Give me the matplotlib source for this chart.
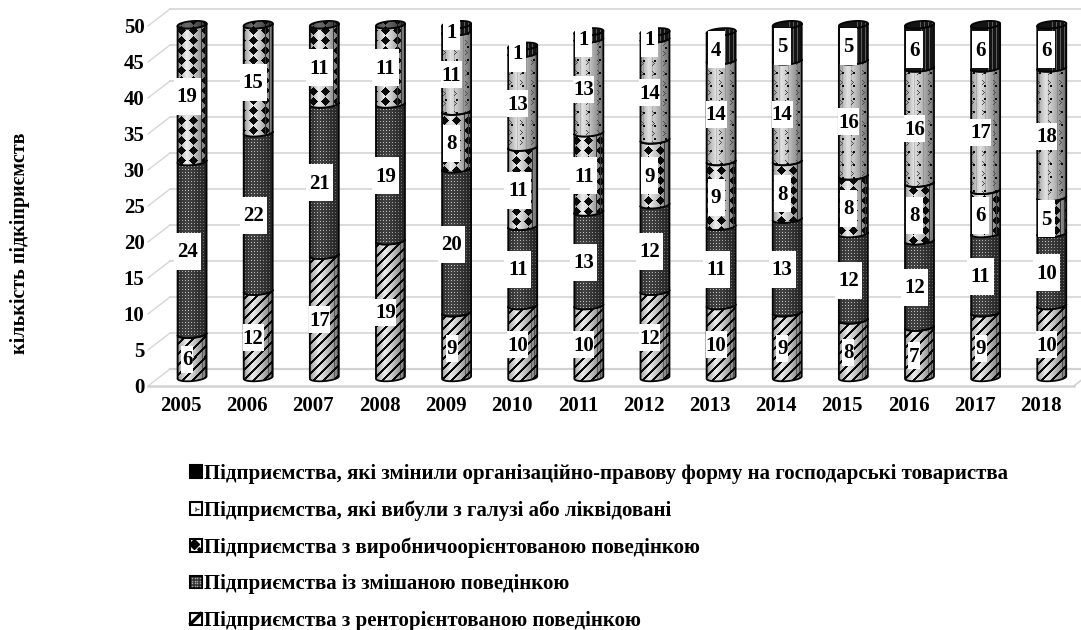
import numpy as np
import matplotlib
matplotlib.use("Agg")
import matplotlib.pyplot as plt
from matplotlib.path import Path
from matplotlib.patches import PathPatch, Rectangle
from matplotlib.lines import Line2D
from matplotlib.legend_handler import HandlerBase
from matplotlib.transforms import IdentityTransform, Affine2D

years = [2005, 2006, 2007, 2008, 2009, 2010, 2011, 2012, 2013, 2014, 2015, 2016, 2017, 2018]
rent = [6, 12, 17, 19, 9, 10, 10, 12, 10, 9, 8, 7, 9, 10]
mixed = [24, 22, 21, 19, 20, 11, 13, 12, 11, 13, 12, 12, 11, 10]
production = [19, 15, 11, 11, 8, 11, 11, 9, 9, 8, 8, 8, 6, 5]
exited = [0, 0, 0, 0, 11, 13, 13, 14, 14, 14, 16, 16, 17, 18]
changed = [0, 0, 0, 0, 1, 1, 1, 1, 4, 5, 5, 6, 6, 6]
legend_labels = [
    "Підприємства, які змінили організаційно-правову форму на господарські товариства",
    "Підприємства, які вибули з галузі або ліквідовані",
    "Підприємства з виробничоорієнтованою поведінкою",
    "Підприємства із змішаною поведінкою",
    "Підприємства з ренторієнтованою поведінкою",
]
ylabel = "кількість підкіприємств"
yticks = [0, 5, 10, 15, 20, 25, 30, 35, 40, 45, 50]

plt.rcParams["font.family"] = ["Liberation Serif", "DejaVu Serif"]
plt.rcParams["font.weight"] = "bold"

W, H = 1081, 630
PX_CAT, PX_VAL = 66.13, 7.2      # pixels per category / per value
LEFT, BOTTOM = 159.0, 377.5
fig = plt.figure(figsize=(W / 100, H / 100), dpi=100, facecolor="white")
ax = fig.add_axes([LEFT / W, (H - BOTTOM) / H, 14 * PX_CAT / W, 50 * PX_VAL / H])
ax.patch.set_visible(False)
for s in ax.spines.values():
    s.set_visible(False)
ax.set_xlim(-.5, 13.5)
ax.set_ylim(0, 50)


def px_shift(dx, dy):
    return Affine2D().translate(dx, dy)


back = ax.transData + px_shift(11, 8.5)
front = ax.transData + px_shift(-11, -8.5)
GRID = "#d2d2d2"
for v in yticks:
    lw = 1.6 if v == 0 else 1.1
    ax.plot([-0.5, 13.5], [v, v], color=GRID, lw=lw, transform=back, clip_on=False, zorder=1)
    p0 = front.transform((-0.5, v))
    p1 = back.transform((-0.5, v))
    ax.plot([p0[0], p1[0]], [p0[1], p1[1]], color=GRID, lw=0.9,
            transform=IdentityTransform(), clip_on=False, zorder=1)
ax.plot([-0.5, 13.5], [0, 0], color=GRID, lw=1.8, transform=front, clip_on=False, zorder=1)
p0 = front.transform((13.5, 0))
p1 = back.transform((13.5, 0))
ax.plot([p0[0], p1[0]], [p0[1], p1[1]], color=GRID, lw=1.2,
        transform=IdentityTransform(), clip_on=False, zorder=1)

RX = 14.5 / PX_CAT
RY = 3.6 / PX_VAL
TILT = 1.2 / PX_VAL


def arc(cx, v, a0, a1, n=40):
    th = np.linspace(a0, a1, n)
    return np.c_[cx + RX * np.cos(th), v - RY * np.sin(th) + TILT * np.cos(th)]


def segment_path(cx, v0, v1):
    low = arc(cx, v0, np.pi, 0)
    up = arc(cx, v1, 0, np.pi)
    return Path(np.r_[low, up, low[:1]], closed=True)


def cap_path(cx, v):
    return Path(arc(cx, v, 0, 2 * np.pi, 80), closed=True)


def texture(kind, X, Y, t):
    shade = np.interp(t, [0, .06, .3, .55, .78, 1], [.25, .62, 1, .78, .5, .25])
    if kind == "rent":
        out = .3 + .62 * shade
        out = np.where((X + Y) % 10 < 3, .04, out)
        out = np.where((t > .8) & (X % 3 == 0), out * .6, out)
    elif kind == "mixed":
        out = np.full(X.shape, .1)
        dots = (X % 3 == 1) & (Y % 3 == 1)
        out = np.where(dots, .2 + .6 * shade, out + .16 * shade)
    elif kind == "production":
        out = .25 + .68 * shade
        dx = (X + 6) % 12 - 6
        dy = (Y + 5) % 10 - 5
        out = np.where(np.abs(dx) + np.abs(dy) <= 4, .04, out)
        out = np.where((t > .72) & (X % 4 == 0), .2, out)
    elif kind == "exited":
        out = .3 + .58 * shade
        out = np.where(X % 9 == 4, out * .85, out)
        dx = X % 11
        dy = Y % 10
        chevron = (dx == 3 + np.minimum(dy, 4 - dy)) & (dy < 5)
        out = np.where(chevron, .3, out)
        dot = ((X + 6) % 11 < 2) & ((Y + 6) % 13 < 2)
        out = np.where(dot, .05, out)
    else:
        out = np.full(X.shape, .08)
        out = np.where((t > .5) & (X % 4 == 0), .36, out)
    return np.clip(out, 0, 1)


def draw_textured(path, kind, z, darken=1.0):
    verts = path.vertices
    x0, x1 = verts[:, 0].min(), verts[:, 0].max()
    y0, y1 = verts[:, 1].min(), verts[:, 1].max()
    nx = max(int(round((x1 - x0) * PX_CAT)), 2)
    ny = max(int(round((y1 - y0) * PX_VAL)), 2)
    xs = np.arange(nx) + int(LEFT + (x0 + .5) * PX_CAT)
    ys = np.arange(ny) + int(BOTTOM - y1 * PX_VAL)
    X, Y = np.meshgrid(xs, ys)
    t = (np.arange(nx)[None, :] + .5) / nx * np.ones_like(X)
    arr = texture(kind, X, Y, t) * darken
    im = ax.imshow(arr, cmap="gray", vmin=0, vmax=1, extent=(x0, x1, y0, y1), origin="upper",
                   aspect="auto", interpolation="nearest", zorder=z)
    ax.add_patch(PathPatch(path, fc="none", ec="#050505", lw=1.3, zorder=z + .1,
                           clip_on=False, joinstyle="round"))
    im.set_clip_box(fig.bbox)
    im.set_clip_path(PathPatch(path, transform=ax.transData))


series = [("rent", rent), ("mixed", mixed), ("production", production),
          ("exited", exited), ("changed", changed)]

box_style = {  # (two-digit width, one-digit width, height) in pixels
    "rent": (21, 12, 27),
    "mixed": (27, 17, 37),
    "production": (27, 17, 37),
    "exited": (21, 17, 27),
    "changed": (21, 17, 37),
}

for i in range(len(years)):
    base = 0
    top_kind = None
    for kind, vals in series:
        v = vals[i]
        if v == 0:
            continue
        draw_textured(segment_path(i, base, base + v), kind, 3 + base / 100)
        top_kind = kind
        base += v
    draw_textured(cap_path(i, base), top_kind, 4, darken=.45 if top_kind == "production" else 1)
    base = 0
    for kind, vals in series:
        v = vals[i]
        if v == 0:
            continue
        mid = base + v / 2
        wide, narrow, hgt = box_style[kind]
        w = (wide if v >= 10 else narrow) / PX_CAT
        h = hgt / PX_VAL
        cx = i - 5 / PX_CAT
        cy = mid - 3.3 / PX_VAL
        ax.add_patch(Rectangle((cx - w / 2, cy - h / 2), w, h, fc="white", ec="none", zorder=6, clip_on=False))
        ax.text(cx, cy - 1 / PX_VAL, str(v), ha="center", va="center", fontsize=15, fontweight="bold",
                color="black", zorder=7, clip_on=False)
        base += v

ax.set_xlim(-.5, 13.5)
ax.set_ylim(0, 50)
ax.set_xticks(range(len(years)), [str(y) for y in years])
ax.set_yticks(yticks, [str(v) for v in yticks])
ax.tick_params(axis="both", length=0, labelsize=15, labelcolor="black")
ax.tick_params(axis="y", pad=10.5)
ax.tick_params(axis="x", pad=13.5)
for lab in ax.get_xticklabels():
    lab.set_fontweight("bold")
    lab.set_transform(lab.get_transform() + px_shift(-11, 0))
for lab in ax.get_yticklabels():
    lab.set_fontweight("bold")
    lab.set_transform(lab.get_transform() + px_shift(0, -8))

ax.set_ylabel(ylabel, fontsize=14.4, fontweight="bold", color="black")
ax.yaxis.set_label_coords(30 / W, 1 - 243 / H, transform=fig.transFigure)


class Swatch:
    def __init__(self, kind):
        self.kind = kind


class SwatchHandler(HandlerBase):
    def create_artists(self, legend, orig, xd, yd, width, height, fontsize, trans):
        k = orig.kind
        x = -xd
        y = -yd
        s = min(width, height)
        arts = [Rectangle((x, y), s, s, fc="black" if k == "changed" else "white", ec="black", lw=1.5)]
        mk = []
        if k == "exited":
            mk.append(Line2D([x + .5 * s], [y + .5 * s], marker="4", ms=4, mew=.9, color="#333333", ls=""))
        elif k == "production":
            mk.append(Line2D([x + .36 * s], [y + .62 * s], marker="D", ms=4.6, color="black", ls=""))
            mk.append(Line2D([x + .78 * s], [y + .24 * s], marker="D", ms=1.8, color="black", ls=""))
        elif k == "mixed":
            arts[0].set_facecolor("#2a2a2a")
            gx, gy = np.meshgrid(np.linspace(.2, .8, 4), np.linspace(.2, .8, 4))
            mk.append(Line2D(x + gx.ravel() * s, y + gy.ravel() * s, marker="s", ms=1.1, mew=0,
                             color="#a8a8a8", ls=""))
        elif k == "rent":
            mk.append(Line2D([x, x + s], [y, y + s], color="black", lw=2.4, solid_capstyle="butt"))
        arts += mk
        for a in arts:
            a.set_transform(trans)
        return arts


kinds = ["changed", "exited", "production", "mixed", "rent"]
swatches = [Swatch(k) for k in kinds]
fig.legend(swatches, legend_labels, handler_map={Swatch: SwatchHandler()},
           loc="upper left", bbox_to_anchor=(189.5 / W, 1 - 463.5 / H),
           frameon=False, ncol=1, labelspacing=.795, handlelength=.6, handleheight=.6,
           handletextpad=.08, borderpad=0, borderaxespad=0, labelcolor="black",
           prop={"weight": "bold", "size": 15})

fig.savefig("out.png", dpi=100, facecolor="white")
